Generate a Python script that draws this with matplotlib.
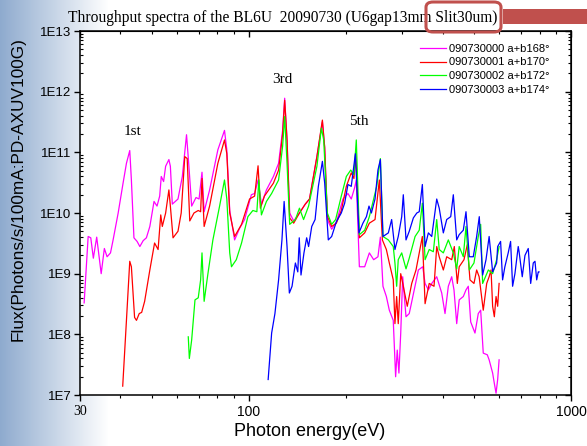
import numpy as np
import matplotlib.pyplot as plt
from matplotlib.patches import FancyBboxPatch, Rectangle
from matplotlib.ticker import FixedLocator, FixedFormatter, LogLocator, NullFormatter

plt.rcParams['font.family'] = ['Liberation Sans', 'DejaVu Sans']

# ---- data (eV, photons/s/100mA) ----
mag_E = [30.9, 31.8, 32.4, 33.0, 33.8, 34.9, 35.7, 36.4, 37.3, 38.0, 39.4, 40.8, 41.8, 42.8, 43.3, 44.1,
         45.1, 46.0, 47.1, 48.2, 49.4, 50.9, 52.0, 53.0, 53.6, 54.5, 55.3, 56.6, 57.2, 58.0, 60.4, 62.3,
         64.2, 65.3, 66.6, 68.7, 70.2, 71.7, 72.8, 75.7, 80.3, 84.2, 85.6, 87.4, 90.5, 93.8, 97.2, 102.0,
         104.4, 107.0, 109.6, 113.6, 119.4, 123.9, 127.5, 129.4, 131.6, 134.1, 138.0, 143.8, 149.9, 154.5,
         162.9, 169.4, 172.2, 175.5, 181.0, 187.2, 196.2, 203.3, 208.2, 213.2, 215.8, 220.6, 229.1, 236.9,
         244.3, 251.9, 256.3, 261.1, 267.5, 273.2, 281.0, 285.8, 289.1, 292.6, 296.4, 300.6, 307.8, 315.0,
         328.4, 336.2, 346.9, 352.7, 361.1, 369.9, 383.3, 397.2, 406.7, 416.4, 426.6, 433.6, 442.1, 450.0,
         463.4, 472.4, 480.2, 488.6, 503.7, 515.7, 524.6, 534.4, 550.0, 557.3, 571.4, 578.4, 585.5, 592.3, 598.4]
mag_F = [3.3e8, 4.1e9, 3.9e9, 1.8e9, 4.0e9, 1.0e9, 2.6e9, 1.9e9, 2.2e9, 3.6e9, 1.0e10, 3.1e10, 6.6e10, 1.07e11,
         3.5e10, 3.9e9, 3.4e9, 2.8e9, 3.5e9, 3.9e9, 6.0e9, 1.55e10, 1.3e10, 1.9e10, 4.0e10, 3.3e10, 5.9e10,
         7.6e10, 5.9e10, 1.4e10, 1.7e10, 4.0e10, 1.95e11, 5.9e10, 1.3e10, 1.8e10, 1.7e10, 4.7e10, 1.05e10,
         2.4e10, 1.1e11, 2.3e11, 1.1e11, 1.1e10, 3.6e9, 5.6e9, 7.8e9, 2.0e10, 2.1e10, 3.5e10, 1.4e10, 2.4e10,
         4.0e10, 6.6e10, 2.3e11, 7.8e11, 1.6e11, 1.0e10, 7.4e9, 1.0e10, 1.4e10, 1.7e10, 8.5e10, 3.2e11, 1.2e11,
         7.8e9, 5.4e9, 7.1e9, 1.7e10, 2.1e10, 1.7e10, 2.6e10, 3.5e10, 1.3e9, 1.3e9, 2.2e9, 1.7e9, 1.9e9, 4.0e9,
         6.2e8, 4.2e8, 2.5e8, 1.7e8, 2.0e7, 5.5e7, 2.3e7, 1.05e8, 8.9e8, 1.95e8, 2.2e8, 6.3e8, 1.15e9, 1.3e9,
         6.9e8, 5.4e8, 6.9e8, 8.9e8, 4.8e8, 2.2e8, 6.2e8, 8.9e8, 5.4e8, 1.5e8, 3.7e8, 4.2e8, 5.4e8, 6.2e8,
         1.6e8, 1.05e8, 2.2e8, 2.5e8, 4.9e7, 4.6e7, 3.8e7, 2.3e7, 1.55e7, 1.07e7, 1.8e7, 3.8e7]

red_E = [40.7, 41.8, 42.8, 43.3, 44.3, 44.9, 45.8, 46.6, 47.6, 49.4, 51.1, 52.4, 53.4, 54.0, 55.3, 56.6,
         57.2, 58.3, 60.4, 61.8, 63.4, 64.5, 65.7, 67.7, 69.8, 71.0, 71.7, 72.8, 75.7, 80.3, 84.2, 85.6,
         87.4, 90.5, 95.1, 100.7, 104.4, 107.0, 108.8, 112.0, 119.4, 123.9, 127.5, 129.4, 131.6, 134.1,
         138.0, 143.8, 149.9, 154.5, 162.9, 169.4, 172.2, 175.5, 181.0, 187.2, 193.9, 201.0, 208.2, 212.2,
         214.9, 220.6, 229.1, 236.9, 246.7, 254.4, 260.0, 267.5, 273.2, 281.0, 284.4, 287.9, 291.2, 296.4,
         301.9, 310.6, 320.6, 330.6, 345.9, 352.7, 363.3, 376.0, 383.3, 390.2, 401.8, 411.6, 426.6, 434.6,
         444.0, 450.0, 465.7, 476.8, 486.0, 500.1, 509.8, 518.9, 534.4, 547.7, 557.3, 564.9, 571.4, 578.4,
         585.5, 592.3, 598.4]
red_F = [1.4e7, 1.7e8, 1.6e9, 1.3e9, 1.9e8, 1.7e8, 2.2e8, 2.3e8, 3.5e8, 1.15e9, 3.2e9, 2.5e9, 9.3e9, 6.0e9,
         1.0e10, 2.4e10, 1.3e10, 3.9e9, 5.0e9, 1.0e10, 8.5e10, 7.9e10, 7.4e9, 1.0e10, 1.1e10, 1.05e10, 3.7e10,
         6.0e9, 1.3e10, 6.6e10, 1.6e11, 9.5e10, 1.0e10, 4.1e9, 6.5e9, 1.7e10, 1.9e10, 6.0e10, 1.2e10, 1.9e10,
         3.1e10, 5.1e10, 2.0e11, 7.2e11, 1.6e11, 8.3e9, 6.8e9, 1.0e10, 1.4e10, 1.7e10, 8.5e10, 3.4e11, 1.2e11,
         8.9e9, 6.0e9, 6.8e9, 1.1e10, 2.75e10, 4.6e10, 3.7e10, 9.5e10, 3.9e9, 4.7e9, 6.8e9, 7.8e9, 3.5e10,
         3.6e9, 2.5e9, 1.5e9, 7.9e8, 1.5e8, 4.2e8, 1.5e8, 1.0e9, 6.2e8, 2.9e8, 6.9e8, 1.15e9, 4.1e9, 3.2e8,
         6.9e8, 6.2e8, 2.8e9, 1.9e9, 1.15e9, 1.9e9, 1.7e9, 2.8e9, 6.9e8, 1.3e9, 1.7e9, 3.0e9, 7.9e8, 6.9e8,
         1.15e9, 8.9e8, 2.5e8, 6.9e8, 8.9e8, 1.15e9, 2.9e8, 1.95e8, 4.2e8, 2.9e8, 6.9e8]

grn_E = [65.0, 65.5, 66.6, 68.2, 69.8, 71.0, 71.7, 72.8, 74.8, 77.5, 81.3, 84.2, 85.6, 87.4, 88.5, 91.6,
         95.1, 99.5, 103.1, 106.1, 107.6, 109.6, 113.6, 117.9, 123.9, 127.5, 129.4, 131.6, 134.1, 139.7,
         143.8, 148.1, 153.5, 162.9, 168.2, 171.0, 175.5, 181.0, 186.2, 193.9, 201.0, 207.4, 212.2, 215.8,
         220.6, 229.1, 236.9, 249.7, 256.3, 261.1, 271.3, 281.0, 284.4, 287.9, 291.2, 298.5, 307.8, 315.0,
         328.4, 338.3, 345.9, 352.7, 363.3, 374.1, 383.3, 390.2, 401.8, 416.4, 431.5, 442.1, 450.0, 463.4,
         472.4, 483.7, 500.1, 515.7, 524.6, 532.0, 554.1, 571.4, 588.0, 598.4]
grn_F = [9.1e7, 4.0e7, 8.1e7, 3.7e8, 4.0e8, 7.9e8, 2.2e9, 3.5e8, 1.0e9, 3.6e9, 1.3e10, 3.5e10, 1.7e10, 2.2e9,
         1.3e9, 1.7e9, 3.2e9, 8.7e9, 1.1e10, 1.05e10, 3.5e10, 9.3e9, 1.55e10, 2.1e10, 3.5e10, 1.26e11, 3.9e11,
         6.6e10, 6.5e9, 7.8e9, 1.2e10, 7.8e9, 1.3e10, 5.9e10, 2.5e11, 1.6e11, 1.0e10, 6.5e9, 7.8e9, 1.9e10,
         4.0e10, 5.1e10, 4.3e10, 1.6e11, 4.4e9, 5.2e9, 8.7e9, 2.75e10, 7.9e10, 4.1e9, 3.6e9, 2.8e9, 1.5e9,
         6.2e8, 1.7e9, 2.2e9, 1.2e9, 1.8e9, 4.1e9, 5.2e9, 1.45e10, 1.7e9, 2.5e9, 2.3e9, 7.8e9, 2.5e9, 2.2e9,
         3.6e9, 2.2e9, 1.2e9, 2.8e9, 1.9e9, 6.0e9, 1.15e9, 1.5e9, 4.1e9, 6.5e9, 6.9e8, 1.15e9, 1.0e9, 1.7e9, 2.8e9]

blu_E = [115.0, 117.9, 120.7, 123.9, 126.9, 128.9, 131.6, 133.8, 136.4, 139.7, 142.1, 143.6, 145.4, 148.5,
         151.4, 153.5, 157.0, 160.8, 164.6, 169.4, 172.2, 176.7, 181.0, 187.2, 193.9, 198.6, 203.3, 208.2,
         214.4, 219.9, 226.3, 232.0, 236.3, 240.4, 246.7, 251.9, 256.3, 261.1, 271.3, 277.8, 284.4, 291.2,
         298.5, 301.9, 307.8, 315.0, 324.4, 332.5, 338.3, 345.9, 352.7, 361.1, 369.9, 383.3, 390.2, 401.8,
         411.6, 423.6, 431.5, 442.1, 450.0, 463.4, 472.4, 483.7, 497.6, 509.8, 519.4, 532.0, 545.0, 557.3,
         571.4, 588.0, 592.3, 604.8, 613.5, 623.6, 638.6, 649.6, 659.0, 670.0, 686.0, 690.2, 706.0, 719.8,
         736.9, 749.8, 763.8, 773.2, 782.7, 791.6, 795.9]
blu_F = [1.8e7, 1.05e8, 2.2e8, 7.9e8, 3.6e9, 1.55e10, 2.8e9, 4.8e8, 6.2e8, 1.5e9, 1.07e9, 3.9e9, 9.5e8, 2.2e9,
         3.9e9, 2.8e9, 6.0e9, 7.8e9, 2.75e10, 7.1e10, 3.1e10, 3.6e9, 4.1e9, 7.2e9, 1.0e10, 1.45e10, 2.95e10,
         2.75e10, 9.5e10, 4.7e9, 6.8e9, 8.7e9, 1.3e10, 1.0e10, 1.7e10, 5.1e10, 7.6e10, 4.1e9, 4.7e9, 7.8e9,
         2.5e9, 4.1e9, 8.7e9, 2.0e10, 3.6e9, 5.0e9, 8.3e9, 1.0e10, 1.05e10, 2.95e10, 2.8e9, 4.7e9, 4.1e9,
         1.7e10, 1.2e10, 4.7e9, 7.8e9, 8.7e9, 2.0e10, 3.6e9, 4.4e9, 5.2e9, 1.05e10, 1.9e9, 1.9e9, 4.1e9,
         8.7e9, 9.5e8, 1.7e9, 4.1e9, 1.07e9, 1.5e9, 2.8e9, 3.4e9, 7.9e8, 1.3e9, 2.2e9, 3.4e9, 6.2e8, 1.0e9,
         2.8e9, 2.3e9, 8.9e8, 2.0e9, 2.6e9, 6.9e8, 1.5e9, 1.6e9, 7.9e8, 1.07e9, 1.07e9]

labels = ['090730000 a+b168\u00b0', '090730001 a+b170\u00b0', '090730002 a+b172\u00b0', '090730003 a+b174\u00b0']
colors = ['#ff00ff', '#ff0000', '#00ff00', '#0000ff']
ytick_vals = [1e7, 1e8, 1e9, 1e10, 1e11, 1e12, 1e13]
ytick_labels = ['1E7', '1E8', '1E9', '1E10', '1E11', '1E12', '1E13']
xtick_vals = [30, 100, 1000]
xtick_labels = ['30', '100', '1000']
harmonics = [('1st', 43.8, 2.2e11), ('3rd', 127.5, 1.6e12), ('5th', 219.0, 3.2e11)]

W, H = 587, 446
fig = plt.figure(figsize=(W / 100, H / 100), dpi=100)

# bluish fade on the left edge (slide background)
bg = fig.add_axes([0, 0, 1, 1], zorder=-5)
t = np.clip(np.arange(W) / 108.0, 0, 1)[None, :, None]
left = np.array([0.56, 0.67, 0.81])
img = left * (1 - t) + 1.0 * t
img = np.repeat(img, 2, axis=0)
bg.imshow(img, aspect='auto', extent=[0, 1, 0, 1])
bg.axis('off')

ax = fig.add_axes([80 / W, 51 / H, 491 / W, 364 / H])
ax.set_xscale('log')
ax.set_yscale('log')
for E, F, c, lab in zip([mag_E, red_E, grn_E, blu_E], [mag_F, red_F, grn_F, blu_F], colors, labels):
    ax.plot(E, F, color=c, lw=0.9, label=lab)
ax.set_xlim(30, 1000)
ax.set_ylim(1e7, 1e13)

ax.yaxis.set_major_locator(FixedLocator(ytick_vals))
ax.yaxis.set_major_formatter(FixedFormatter(ytick_labels))
ax.yaxis.set_minor_locator(LogLocator(base=10, subs=np.arange(2, 10)))
ax.yaxis.set_minor_formatter(NullFormatter())
ax.xaxis.set_major_locator(FixedLocator(xtick_vals))
ax.xaxis.set_major_formatter(FixedFormatter(xtick_labels))
ax.xaxis.set_minor_locator(LogLocator(base=10, subs=np.arange(2, 10)))
ax.xaxis.set_minor_formatter(NullFormatter())

ax.tick_params(axis='x', which='major', direction='out', length=4, width=1, labelsize=10, pad=3)
ax.tick_params(axis='x', which='minor', direction='out', length=2.5, width=0.8)
ax.tick_params(axis='y', which='major', direction='out', length=4, width=1, labelsize=9.5, pad=2)
ax.tick_params(axis='y', which='minor', direction='in', length=2.5, width=0.8)
ax.get_xticklabels()[0].set_family('Liberation Serif')
for s in ax.spines.values():
    s.set_linewidth(1.1)

top = ax.secondary_xaxis('top')
top.xaxis.set_major_locator(FixedLocator(xtick_vals))
top.xaxis.set_minor_locator(LogLocator(base=10, subs=np.arange(2, 10)))
top.xaxis.set_major_formatter(NullFormatter())
top.xaxis.set_minor_formatter(NullFormatter())
top.tick_params(which='major', direction='in', length=4, width=1)
top.tick_params(which='minor', direction='in', length=2.5, width=0.8)
right = ax.secondary_yaxis('right')
right.yaxis.set_major_locator(FixedLocator(ytick_vals))
right.yaxis.set_minor_locator(LogLocator(base=10, subs=np.arange(2, 10)))
right.yaxis.set_major_formatter(NullFormatter())
right.yaxis.set_minor_formatter(NullFormatter())
right.tick_params(which='major', direction='in', length=4, width=1)
right.tick_params(which='minor', direction='in', length=2.5, width=0.8)

ax.set_xlabel('Photon energy(eV)', fontsize=13)
ax.xaxis.set_label_coords(0.468, -0.077)
ax.set_ylabel('Flux(Photons/s/100mA:PD-AXUV100G)', fontsize=12.4, va='center')
ax.yaxis.set_label_coords(-0.126, 0.566)

for txt, x, y in harmonics:
    ax.text(x, y, txt, family='Liberation Serif', fontsize=11, ha='center', va='center')

ax.legend(loc='upper right', bbox_to_anchor=(0.977, 0.993), frameon=False, fontsize=8,
          handlelength=2.3, handletextpad=0.3, labelspacing=0.35)

fig.text(283 / W, 1 - 18 / H, 'Throughput spectra of the BL6U  20090730 (U6gap13mm Slit30um)',
         family='Liberation Serif', fontsize=11.2, ha='center', va='center')

fig.patches.append(FancyBboxPatch((426 / W, 1 - 32 / H), 75 / W, 30 / H,
                                  boxstyle='round,pad=0,rounding_size=0.012', transform=fig.transFigure,
                                  fill=False, ec='#c0504d', lw=2.2, zorder=5))
fig.patches.append(Rectangle((503 / W, 1 - 24 / H), 84 / W, 15 / H, transform=fig.transFigure,
                             fc='#c0504d', ec='none', zorder=5))

fig.savefig('out.png', dpi=100)
